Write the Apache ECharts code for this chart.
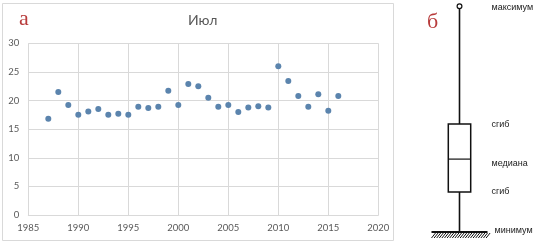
<!DOCTYPE html>
<html>
<head>
<meta charset="utf-8">
<script src="https://cdn.jsdelivr.net/npm/echarts@6/dist/echarts.min.js"></script>
<style>html,body{margin:0;padding:0;background:#fff}#c{width:550px;height:246px}</style>
</head>
<body>
<div id="c"></div>
<script>
// ---- data ----
const years = [1987,1988,1989,1990,1991,1992,1993,1994,1995,1996,1997,1998,1999,2000,2001,2002,2003,2004,2005,2006,2007,2008,2009,2010,2011,2012,2013,2014,2015,2016];
const julyValues = [16.8,21.5,19.2,17.5,18.1,18.5,17.5,17.7,17.5,18.9,18.7,18.9,21.7,19.2,22.9,22.5,20.5,18.9,19.2,18.0,18.8,19.0,18.8,26.0,23.4,20.8,18.9,21.1,18.2,20.8];
const xTicks = [1985,1990,1995,2000,2005,2010,2015,2020];
const yTicks = [0,5,10,15,20,25,30];
const chartTitle = 'Июл';
const panelA = 'а';
const panelB = 'б';
// schematic box plot: [min, Q1, median, Q3, max]
const schemeValues = [0, 17.7, 32.3, 47.8, 100];
const schemeLabels = ['минимум', 'сгиб', 'медиана', 'сгиб', 'максимум'];

const chart = echarts.init(document.getElementById('c'), null, {renderer: 'canvas'});
const grey = '#595959';
const gridCol = '#d9d9d9';
const font = 'Lato, "Open Sans", sans-serif';

function renderScheme(params, api) {
  const cx = api.coord([0, api.value(1)])[0];
  const yMin = api.coord([0, api.value(1)])[1];
  const yQ1 = api.coord([0, api.value(2)])[1];
  const yMed = api.coord([0, api.value(3)])[1];
  const yQ3 = api.coord([0, api.value(4)])[1];
  const yMax = api.coord([0, api.value(5)])[1];
  const half = 11.2;
  const ink = '#111';
  const children = [];
  children.push({type: 'line', shape: {x1: cx, y1: yMax + 2.5, x2: cx, y2: yMin}, style: {stroke: ink, lineWidth: 1.6}});
  children.push({type: 'rect', shape: {x: cx - half, y: yQ3, width: 2 * half, height: yQ1 - yQ3}, style: {fill: '#fff', stroke: ink, lineWidth: 1.5}});
  children.push({type: 'line', shape: {x1: cx - half, y1: yMed, x2: cx + half, y2: yMed}, style: {stroke: ink, lineWidth: 1.2}});
  children.push({type: 'circle', shape: {cx: cx, cy: yMax, r: 2.4}, style: {fill: '#fff', stroke: ink, lineWidth: 1.2}});
  // ground
  children.push({type: 'line', shape: {x1: cx - 28, y1: yMin, x2: cx + 28, y2: yMin}, style: {stroke: ink, lineWidth: 1.8}});
  for (let x = cx - 28; x < cx + 28; x += 2.6) {
    children.push({type: 'line', shape: {x1: x, y1: yMin + 6, x2: x + 4, y2: yMin + 1}, style: {stroke: ink, lineWidth: 1}});
  }
  const ys = [yMin, yQ1, yMed, yQ3, yMax];
  const dx = [35, 32, 32, 32, 32];
  const dy = [-1, -1, 4, 0, 1];
  for (let i = 0; i < 5; i++) {
    children.push({type: 'text', style: {text: schemeLabels[i], x: cx + dx[i], y: ys[i] + dy[i], fill: '#222', font: '9px "Liberation Sans", sans-serif', textVerticalAlign: 'middle', textAlign: 'left'}});
  }
  return {type: 'group', children: children};
}

chart.setOption({
  backgroundColor: '#fff',
  animation: false,
  graphic: [
    {type: 'rect', shape: {x: 2.5, y: 3.5, width: 391, height: 237}, style: {fill: 'none', stroke: gridCol, lineWidth: 1}, z: -1},
    {type: 'text', left: 208 - 20, top: 13, style: {text: chartTitle, fill: grey, font: '14px ' + font}},
    {type: 'text', left: 19, top: 8, style: {text: panelA, fill: '#b83c3c', font: '22px "Liberation Serif", serif'}},
    {type: 'text', left: 427, top: 11, style: {text: panelB, fill: '#b83c3c', font: '22px "Liberation Serif", serif'}}
  ],
  grid: [
    {left: 28.3, right: 171.7, top: 43.3, bottom: 31},
    {left: 440, width: 39, top: 6.3, height: 225.7}
  ],
  xAxis: [
    {type: 'value', gridIndex: 0, min: xTicks[0], max: xTicks[xTicks.length - 1], interval: 5,
     axisLine: {show: true, lineStyle: {color: gridCol}}, axisTick: {show: false},
     axisLabel: {color: grey, fontSize: 9.5, fontFamily: font, margin: 8, formatter: v => String(v)},
     splitLine: {show: true, lineStyle: {color: gridCol}}},
    {type: 'category', gridIndex: 1, data: ['s'], show: false}
  ],
  yAxis: [
    {type: 'value', gridIndex: 0, min: yTicks[0], max: yTicks[yTicks.length - 1], interval: 5,
     axisLine: {show: false}, axisTick: {show: false},
     axisLabel: {color: grey, fontSize: 9.5, fontFamily: font, margin: 9, formatter: v => String(v)},
     splitLine: {show: true, lineStyle: {color: gridCol}}},
    {type: 'value', gridIndex: 1, min: 0, max: 100, show: false}
  ],
  series: [
    {type: 'scatter', xAxisIndex: 0, yAxisIndex: 0, symbolSize: 6,
     itemStyle: {color: '#5b84ad', opacity: 1},
     data: years.map((y, i) => [y, julyValues[i]])},
    {type: 'custom', xAxisIndex: 1, yAxisIndex: 1, renderItem: renderScheme,
     data: [[0].concat(schemeValues)], silent: true}
  ]
});
</script>
</body>
</html>
